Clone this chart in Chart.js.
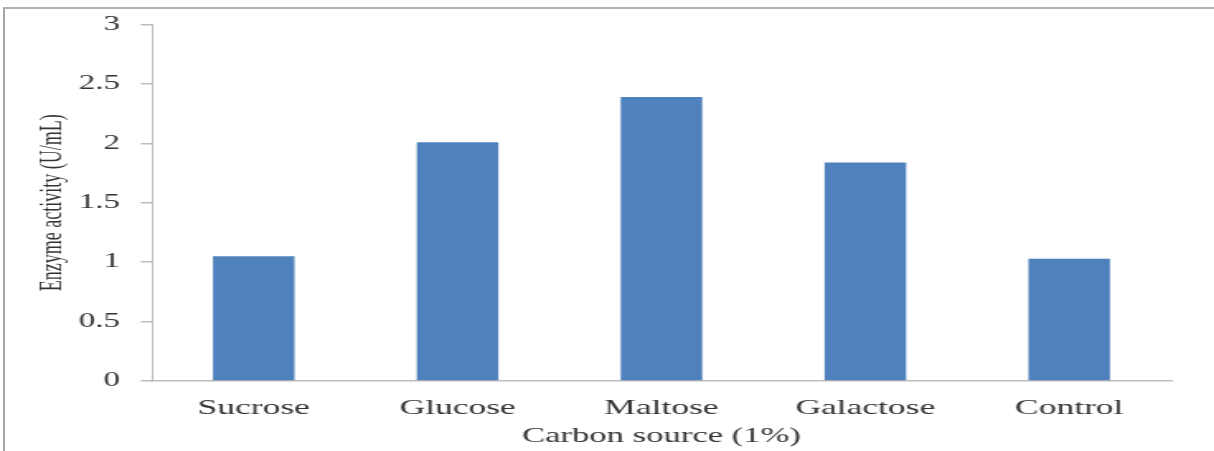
<!DOCTYPE html>
<html>
<head>
<meta charset="utf-8">
<script src="https://cdn.jsdelivr.net/npm/chart.js@4"></script>
<style>
  html, body { margin: 0; padding: 0; background: #fff; overflow: hidden; }
  #wrap { position: relative; width: 1214px; height: 451px; overflow: hidden; }
  #frame { position: absolute; left: 3px; top: 7px; width: 1230px; height: 460px;
           border-left: 2px solid #a6a6a6; border-top: 2px solid #b0b0b0; box-sizing: border-box; }
  /* the chart is drawn on a narrow canvas and stretched horizontally to the full width */
  #stretch { position: absolute; left: 0; top: 0; width: 736px; height: 451px;
             transform-origin: 0 0; transform: scaleX(1.6495); }
  canvas { position: absolute; left: 0; top: 0; }
</style>
</head>
<body>
<div id="wrap">
  <div id="frame"></div>
  <div id="stretch"><canvas id="c" width="736" height="451"></canvas></div>
</div>
<script>
const categories = ['Sucrose', 'Glucose', 'Maltose', 'Galactose', 'Control'];
const activity = [1.05, 2.01, 2.39, 1.84, 1.03];
const yTicks = [0, 0.5, 1, 1.5, 2, 2.5, 3];

const serif = '"Liberation Serif", "DejaVu Serif", serif';
const textColor = '#333333';
const axisColor = '#bdbdbd';

new Chart(document.getElementById('c'), {
  type: 'bar',
  data: {
    labels: categories,
    datasets: [{
      data: activity,
      backgroundColor: '#4f81bd',
      borderWidth: 0,
      barPercentage: 0.4,
      categoryPercentage: 1.0
    }]
  },
  options: {
    responsive: false,
    animation: false,
    devicePixelRatio: 1,
    layout: { padding: { left: 0, right: 26, top: 8, bottom: 0 } },
    plugins: { legend: { display: false }, tooltip: { enabled: false } },
    scales: {
      x: {
        grid: { display: false, drawTicks: false },
        border: { display: true, color: axisColor, width: 1.5 },
        ticks: { color: textColor, font: { family: serif, size: 21.5 }, padding: 14 },
        title: { display: true, text: 'Carbon source (1%)', color: textColor,
                 font: { family: serif, size: 21 }, padding: { top: 0, bottom: 2 } },
        afterFit: s => { s.height = 70; }
      },
      y: {
        min: 0, max: 3,
        afterBuildTicks: s => { s.ticks = yTicks.map(v => ({ value: v })); },
        grid: { display: true, drawOnChartArea: false, drawTicks: true, tickLength: 6.7,
                color: axisColor, lineWidth: 1.5 },
        border: { display: true, color: axisColor, width: 1 },
        ticks: { color: textColor, font: { family: serif, size: 20 }, padding: 12.6,
                 callback: v => String(v) },
        title: { display: true, text: 'Enzyme activity (U/mL)', color: textColor,
                 font: { family: serif, size: 18 }, padding: { top: 21, bottom: 0 } },
        afterFit: s => { s.width = 92; }
      }
    }
  }
});
</script>
</body>
</html>
